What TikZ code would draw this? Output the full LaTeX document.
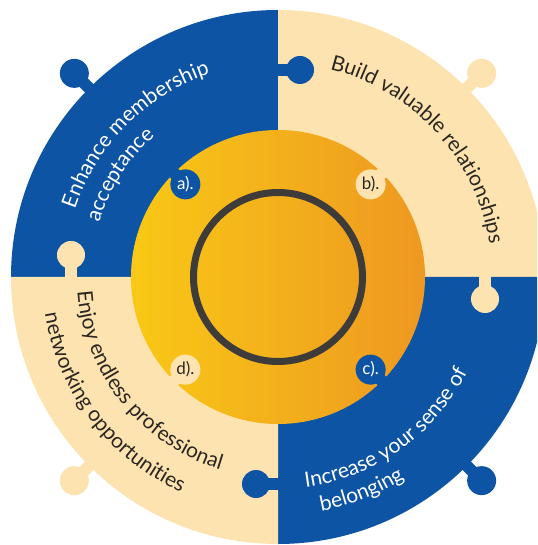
\documentclass[tikz,border=0pt]{standalone}
\usepackage{fontspec}
\setmainfont{Lato}
\usetikzlibrary{decorations.text}
\definecolor{pblue}{HTML}{0E54A4}
\definecolor{pcream}{HTML}{FDE3AF}
\definecolor{pyellow}{HTML}{F9C816}
\definecolor{porange}{HTML}{EE9821}
\definecolor{pring}{HTML}{3E3C3A}
\definecolor{ptext}{HTML}{2B2622}
\tikzset{
  curvetext/.style n args={2}{decorate,decoration={text along path,text align=left,
     text={|\fontsize{21}{21}\selectfont\color{#1}|#2}}},
  notelabel/.style={font=\fontsize{17}{17}\selectfont, inner sep=0pt}
}
\begin{document}
\begin{tikzpicture}[x=1pt,y=1pt]
\clip (-278,-268) rectangle (259,277);
\fill[white] (-278,-268) rectangle (259,277);
% quadrants
\fill[pblue]  (0,0) -- (90:267)  arc[start angle=90, end angle=180, radius=267] -- cycle;
\fill[pcream] (0,0) -- (0:267)   arc[start angle=0, end angle=90, radius=267] -- cycle;
\fill[pblue]  (0,0) -- (-90:267) arc[start angle=-90, end angle=0, radius=267] -- cycle;
\fill[pcream] (0,0) -- (180:267) arc[start angle=180, end angle=270, radius=267] -- cycle;
% outward knobs
\foreach \a/\c in {135/pblue,45/pcream,-45/pblue,225/pcream}{
  \draw[\c, line width=12, rotate=\a] (258,0) -- (282,0);
  \fill[\c, rotate=\a] (288,0) circle (14.5);
}
% side knobs (protruding clockwise into neighbour)
\foreach \a/\c in {90/pblue,0/pcream,-90/pblue,180/pcream}{
  \draw[\c, line width=12, rotate=\a] (207,3) -- (207,-14);
  \fill[\c, rotate=\a] (207,-22) circle (14);
}
% central disc
\shade[left color=pyellow, right color=porange] (0,0) circle (147);
% inner notches
\foreach \a/\c in {135/pblue,45/pcream,-45/pblue,225/pcream}{
  \draw[\c, line width=12, rotate=\a] (125,0) -- (152,0);
  \fill[\c, rotate=\a] (131,0) circle (15);
}
\draw[pring, line width=7] (0,0) circle (84.5);
% notch labels
\node[notelabel, text=white] (la) at (135:131) {a).};
\node[notelabel, text=ptext] (lb) at (45:131) {b).};
\node[notelabel, text=white] (lc) at (-45:131) {c).};
\node[notelabel, text=ptext] (ld) at (225:131) {d).};
% curved texts
\path[curvetext={white}{Enhance membership}] (161.5:214) arc[start angle=161.5, end angle=20, radius=214];
\path[curvetext={white}{acceptance}] (163:187) arc[start angle=163, end angle=20, radius=187];
\path[curvetext={ptext}{Build valuable relationships}] (76:214) arc[start angle=76, end angle=-60, radius=214];
\path[curvetext={white}{Increase your sense of}] (-82.5:212) arc[start angle=-82.5, end angle=40, radius=212];
\path[curvetext={white}{belonging}] (-79.5:238) arc[start angle=-79.5, end angle=40, radius=238];
\path[curvetext={ptext}{Enjoy endless professional}] (184:201) arc[start angle=184, end angle=300, radius=201];
\path[curvetext={ptext}{networking opportunities}] (189:236) arc[start angle=189, end angle=300, radius=236];
\end{tikzpicture}
\end{document}
